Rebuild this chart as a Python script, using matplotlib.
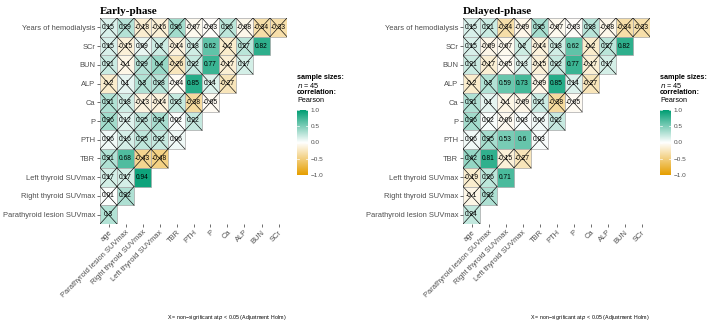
import matplotlib
matplotlib.use("Agg")
import matplotlib.pyplot as plt
import numpy as np
from matplotlib.colors import LinearSegmentedColormap, Normalize
from matplotlib.patches import Rectangle

W, H = 708, 330

row_labels = ["Years of hemodialysis", "SCr", "BUN", "ALP", "Ca", "P", "PTH", "TBR",
              "Left thyroid SUVmax", "Right thyroid SUVmax", "Parathyroid lesion SUVmax"]
col_labels = ["age", "Parathyroid lesion SUVmax", "Right thyroid SUVmax", "Left thyroid SUVmax",
              "TBR", "PTH", "P", "Ca", "ALP", "BUN", "SCr"]

early_values = [
    [0.15, 0.29, -0.18, -0.16, 0.36, -0.07, -0.03, 0.26, -0.08, -0.34, -0.33],
    [0.15, -0.15, 0.09, 0.2, -0.14, 0.18, 0.62, -0.2, 0.27, 0.82],
    [0.21, -0.1, 0.29, 0.4, -0.26, 0.22, 0.77, -0.17, 0.17],
    [-0.2, 0.1, 0.3, 0.28, -0.04, 0.85, 0.14, -0.27],
    [0.31, 0.18, -0.13, -0.14, 0.23, -0.38, -0.05],
    [0.36, 0.12, 0.25, 0.34, 0.02, 0.22],
    [0.06, 0.16, 0.25, 0.22, 0.06],
    [0.31, 0.68, -0.43, -0.48],
    [0.17, 0.17, 0.94],
    [0.01, 0.32],
    [0.3],
]
delayed_values = [
    [0.15, 0.21, -0.34, -0.09, 0.35, -0.07, -0.03, 0.28, -0.08, -0.34, -0.33],
    [0.15, -0.09, -0.07, 0.2, -0.14, 0.18, 0.62, -0.2, 0.27, 0.82],
    [0.21, -0.17, -0.05, 0.13, -0.15, 0.22, 0.77, -0.17, 0.17],
    [-0.2, 0.3, 0.59, 0.73, -0.09, 0.85, 0.14, -0.27],
    [0.31, 0.1, -0.1, -0.09, 0.21, -0.38, -0.05],
    [0.36, 0.02, -0.06, 0.03, 0.06, 0.22],
    [0.06, 0.35, 0.53, 0.6, 0.03],
    [0.42, 0.81, -0.15, -0.27],
    [-0.19, 0.26, 0.71],
    [-0.1, 0.32],
    [0.24],
]
early_significant = [("SCr", "P"), ("SCr", "BUN"), ("BUN", "P"), ("ALP", "PTH"),
                     ("TBR", "Parathyroid lesion SUVmax"), ("Left thyroid SUVmax", "Right thyroid SUVmax")]
delayed_significant = [("SCr", "P"), ("SCr", "BUN"), ("BUN", "P"), ("ALP", "PTH"),
                       ("ALP", "Right thyroid SUVmax"), ("ALP", "Left thyroid SUVmax"),
                       ("PTH", "Right thyroid SUVmax"), ("PTH", "Left thyroid SUVmax"),
                       ("TBR", "Parathyroid lesion SUVmax"), ("Left thyroid SUVmax", "Right thyroid SUVmax")]
titles = ["Early-phase", "Delayed-phase"]
sample_size = 45

cmap = LinearSegmentedColormap.from_list("gc", ["#E69F00", "#FFFFFF", "#009E73"])
norm = Normalize(-1, 1)

plt.rcParams['font.family'] = ['Liberation Sans', 'DejaVu Sans']
fig = plt.figure(figsize=(W / 100, H / 100), dpi=100)
fig.patch.set_facecolor("white")


def px_axes(x0, y0, x1, y1):
    return fig.add_axes([x0 / W, 1 - y1 / H, (x1 - x0) / W, (y1 - y0) / H])


txt_col = "#4D4D4D"
panels = [(100, 287, early_values, early_significant, titles[0]),
          (463, 650, delayed_values, delayed_significant, titles[1])]

for (gx0, gx1, vals, sig, title) in panels:
    gy0, gy1 = 18, 224
    ax = px_axes(gx0, gy0, gx1, gy1)
    n = len(col_labels)
    ax.set_xlim(-0.5, n - 0.5)
    ax.set_ylim(len(row_labels) - 0.5, -0.5)
    for r, row in enumerate(vals):
        for c, v in enumerate(row):
            ax.add_patch(Rectangle((c - 0.5, r - 0.5), 1, 1, facecolor=cmap(norm(v)),
                                   edgecolor="#A8A8A8", linewidth=0.5, zorder=1))
            if (row_labels[r], col_labels[c]) not in sig:
                ax.plot([c - 0.5, c + 0.5], [r - 0.5, r + 0.5], color="black", lw=0.45, zorder=2)
                ax.plot([c - 0.5, c + 0.5], [r + 0.5, r - 0.5], color="black", lw=0.45, zorder=2)
            ax.text(c, r, f"{v:g}", ha="center", va="center", fontsize=4.8, color="black", zorder=3)
    for s in ax.spines.values():
        s.set_visible(False)
    ax.set_xticks(range(n))
    ax.set_xticklabels(col_labels, rotation=45, ha="right", rotation_mode="anchor",
                       fontsize=5.4, color=txt_col)
    ax.set_yticks(range(len(row_labels)))
    ax.set_yticklabels(row_labels, fontsize=5.4, color=txt_col)
    ax.tick_params(length=2, width=0.5, color="#333333", pad=1.5)
    ax.set_facecolor("none")

    fig.text(gx0 / W, 1 - 12 / H, title, fontsize=8, fontweight="bold",
             family="Liberation Serif", ha="left", va="center")

    # caption
    fig.text(gx1 / W, 1 - 318 / H,
             "X = non\u2212significant at $\\it{p}$ < 0.05 (Adjustment: Holm)",
             fontsize=3.8, ha="right", va="center", color="black")

    # legend
    lx = gx1 + 10
    fig.text(lx / W, 1 - 77 / H, "sample sizes:", fontsize=5.2, fontweight="bold", ha="left", va="center")
    fig.text(lx / W, 1 - 85 / H, f"$\\it{{n}}$ = {sample_size}", fontsize=5.2, ha="left", va="center")
    fig.text(lx / W, 1 - 93 / H, "correlation:", fontsize=5.2, fontweight="bold", ha="left", va="center")
    fig.text(lx / W, 1 - 101 / H, "Pearson", fontsize=5.2, ha="left", va="center")
    cax = px_axes(lx, 110, lx + 11, 175)
    grad = np.linspace(1, -1, 200).reshape(-1, 1)
    cax.imshow(grad, cmap=cmap, norm=norm, aspect="auto", extent=[0, 1, -1, 1])
    cax.set_xticks([])
    cax.yaxis.tick_right()
    ticks = [1.0, 0.5, 0.0, -0.5, -1.0]
    cax.set_yticks(ticks)
    cax.set_yticklabels([f"{t:.1f}".replace("-", "\u2212") for t in ticks], fontsize=4.6, color=txt_col)
    cax.tick_params(axis="y", length=0, pad=2)
    for t in ticks:
        cax.plot([0, 0.2], [t, t], color="white", lw=0.5)
        cax.plot([0.8, 1], [t, t], color="white", lw=0.5)
    cax.set_xlim(0, 1)
    cax.set_ylim(-1, 1)
    for s in cax.spines.values():
        s.set_visible(False)

fig.savefig("out.png", dpi=100, facecolor="white")
